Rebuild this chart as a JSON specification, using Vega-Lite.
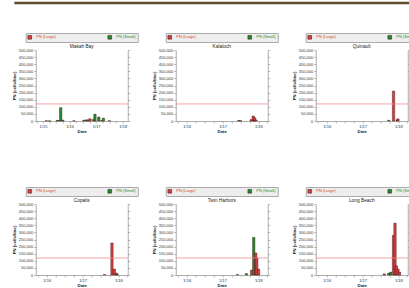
{
  "$schema": "https://vega.github.io/schema/vega-lite/v6.json",
  "padding": {"left": 12, "top": 1, "right": 2, "bottom": 0},
  "center": true,
  "datasets": {
    "pn": [
      {"site": "Makah Bay", "date": "2015-02-15", "type": "PN (Large)", "value": 2000},
      {"site": "Makah Bay", "date": "2015-04-01", "type": "PN (Small)", "value": 1500},
      {"site": "Makah Bay", "date": "2015-07-15", "type": "PN (Small)", "value": 4000},
      {"site": "Makah Bay", "date": "2015-08-10", "type": "PN (Large)", "value": 3000},
      {"site": "Makah Bay", "date": "2015-09-01", "type": "PN (Small)", "value": 94000},
      {"site": "Makah Bay", "date": "2015-10-01", "type": "PN (Small)", "value": 6000},
      {"site": "Makah Bay", "date": "2016-03-01", "type": "PN (Small)", "value": 1500},
      {"site": "Makah Bay", "date": "2016-07-15", "type": "PN (Small)", "value": 5000},
      {"site": "Makah Bay", "date": "2016-08-18", "type": "PN (Large)", "value": 8000},
      {"site": "Makah Bay", "date": "2016-09-10", "type": "PN (Small)", "value": 8000},
      {"site": "Makah Bay", "date": "2016-10-07", "type": "PN (Large)", "value": 16000},
      {"site": "Makah Bay", "date": "2016-11-27", "type": "PN (Large)", "value": 12000},
      {"site": "Makah Bay", "date": "2016-12-15", "type": "PN (Small)", "value": 48000},
      {"site": "Makah Bay", "date": "2017-02-05", "type": "PN (Small)", "value": 28000},
      {"site": "Makah Bay", "date": "2017-03-20", "type": "PN (Large)", "value": 4000},
      {"site": "Makah Bay", "date": "2017-04-10", "type": "PN (Small)", "value": 20000},
      {"site": "Makah Bay", "date": "2017-07-01", "type": "PN (Small)", "value": 2000},
      {"site": "Kalaloch", "date": "2017-06-15", "type": "PN (Small)", "value": 4000},
      {"site": "Kalaloch", "date": "2017-07-05", "type": "PN (Small)", "value": 2500},
      {"site": "Kalaloch", "date": "2017-10-20", "type": "PN (Large)", "value": 10000},
      {"site": "Kalaloch", "date": "2017-11-10", "type": "PN (Large)", "value": 35000},
      {"site": "Kalaloch", "date": "2017-11-18", "type": "PN (Small)", "value": 5000},
      {"site": "Kalaloch", "date": "2017-11-25", "type": "PN (Large)", "value": 22000},
      {"site": "Kalaloch", "date": "2017-12-08", "type": "PN (Large)", "value": 6000},
      {"site": "Quinault", "date": "2017-09-26", "type": "PN (Small)", "value": 5000},
      {"site": "Quinault", "date": "2017-11-13", "type": "PN (Large)", "value": 211000},
      {"site": "Quinault", "date": "2017-12-20", "type": "PN (Small)", "value": 8000},
      {"site": "Quinault", "date": "2017-12-28", "type": "PN (Large)", "value": 15000},
      {"site": "Copalis", "date": "2017-08-13", "type": "PN (Small)", "value": 3000},
      {"site": "Copalis", "date": "2017-10-28", "type": "PN (Large)", "value": 225000},
      {"site": "Copalis", "date": "2017-11-21", "type": "PN (Large)", "value": 42000},
      {"site": "Copalis", "date": "2017-12-10", "type": "PN (Large)", "value": 14000},
      {"site": "Copalis", "date": "2017-12-20", "type": "PN (Small)", "value": 5000},
      {"site": "Twin Harbors", "date": "2017-06-01", "type": "PN (Small)", "value": 3000},
      {"site": "Twin Harbors", "date": "2017-09-01", "type": "PN (Small)", "value": 10000},
      {"site": "Twin Harbors", "date": "2017-10-24", "type": "PN (Large)", "value": 35000},
      {"site": "Twin Harbors", "date": "2017-11-15", "type": "PN (Small)", "value": 265000},
      {"site": "Twin Harbors", "date": "2017-12-05", "type": "PN (Large)", "value": 155000},
      {"site": "Twin Harbors", "date": "2017-12-16", "type": "PN (Large)", "value": 120000},
      {"site": "Twin Harbors", "date": "2018-01-03", "type": "PN (Large)", "value": 42000},
      {"site": "Long Beach", "date": "2017-08-10", "type": "PN (Large)", "value": 8000},
      {"site": "Long Beach", "date": "2017-09-25", "type": "PN (Small)", "value": 12000},
      {"site": "Long Beach", "date": "2017-10-15", "type": "PN (Small)", "value": 20000},
      {"site": "Long Beach", "date": "2017-11-13", "type": "PN (Large)", "value": 280000},
      {"site": "Long Beach", "date": "2017-11-28", "type": "PN (Large)", "value": 365000},
      {"site": "Long Beach", "date": "2017-12-12", "type": "PN (Large)", "value": 65000},
      {"site": "Long Beach", "date": "2017-12-28", "type": "PN (Large)", "value": 42000},
      {"site": "Long Beach", "date": "2018-01-13", "type": "PN (Large)", "value": 21000}
    ],
    "thr": [{"threshold": 120000}],
    "topline": [{"y": 0}]
  },
  "config": {
    "font": "Liberation Sans",
    "view": {"stroke": null},
    "axis": {
      "labelFontSize": 4, "titleFontSize": 4.3, "tickSize": 2, "labelPadding": 1, "titlePadding": 1.5,
      "domainColor": "#777777", "tickColor": "#777777", "labelColor": "#333333", "titleColor": "#222222",
      "grid": false, "domainWidth": 0.6, "tickWidth": 0.5
    },
    "title": {"fontSize": 4.8, "fontWeight": "normal", "offset": 0, "dy": 20, "color": "#222222"},
    "legend": {
      "labelColor": {"expr": "datum.value == 'PN (Large)' ? '#e03a2e' : '#1e8c2e'"}
    }
  },
  "spacing": 27,
  "vconcat": [
    {
      "width": 424, "height": 1,
      "data": {"name": "topline"},
      "mark": {"type": "rule", "color": "#5e4a2a", "strokeWidth": 2.5},
      "encoding": {"y": {"field": "y", "type": "quantitative", "axis": null, "scale": {"domain": [0, 1]}}}
    },
    {
      "spacing": 52,
      "resolve": {"legend": {"color": "independent"}, "scale": {"color": "independent"}},
      "vconcat": [
        {
          "spacing": 14,
          "resolve": {"legend": {"color": "independent"}, "scale": {"color": "independent", "x": "independent"}},
          "hconcat": [
            {
              "width": 92, "height": 71, "title": "Makah Bay",
              "resolve": {"axis": {"y": "independent"}},
              "layer": [
                {
                  "data": {"name": "pn"},
                  "transform": [{"filter": "datum.site == 'Makah Bay'"}],
                  "mark": {"type": "bar", "size": 2.4, "stroke": "#3a1010", "strokeWidth": 0.4},
                  "encoding": {
                    "x": {"field": "date", "type": "temporal", "title": "Date",
                      "scale": {"domain": [{"year": 2014, "month": 12, "date": 1}, {"year": 2018, "month": 1, "date": 1}]},
                      "axis": {"tickCount": {"interval": "month", "step": 3}, "labelOverlap": false, "labelExpr": "month(datum.value) == 0 ? timeFormat(datum.value, '%-m/%y') : ''"}},
                    "y": {"field": "value", "type": "quantitative", "title": "PN (cells/liter)",
                      "scale": {"domain": [0, 500000]},
                      "axis": {"values": [0, 50000, 100000, 150000, 200000, 250000, 300000, 350000, 400000, 450000, 500000], "format": ",d"}},
                    "color": {"field": "type", "type": "nominal",
                      "scale": {"domain": ["PN (Large)", "PN (Small)"], "range": ["#d04040", "#228b2e"]},
                      "legend": {"title": null, "orient": "none", "legendX": -10, "legendY": -17, "direction": "horizontal",
                        "fillColor": "#eeeeee", "strokeColor": "#aaaaaa", "padding": 1.5, "columnPadding": 50,
                        "labelFontSize": 4, "symbolSize": 14, "symbolType": "square", "symbolStrokeWidth": 0.5, "labelLimit": 100}}
                  }
                },
                {
                  "data": {"name": "thr"},
                  "mark": {"type": "rule", "color": "#f08a8a", "strokeWidth": 0.8},
                  "encoding": {"y": {"field": "threshold", "type": "quantitative", "scale": {"domain": [0, 500000]},
                    "axis": {"orient": "right", "labels": false, "title": null, "values": [0, 50000, 100000, 150000, 200000, 250000, 300000, 350000, 400000, 450000, 500000]}}}
                }
              ]
            },
            {
              "width": 92, "height": 71, "title": "Kalaloch",
              "resolve": {"axis": {"y": "independent"}},
              "layer": [
                {
                  "data": {"name": "pn"},
                  "transform": [{"filter": "datum.site == 'Kalaloch'"}],
                  "mark": {"type": "bar", "size": 2.4, "stroke": "#3a1010", "strokeWidth": 0.4},
                  "encoding": {
                    "x": {"field": "date", "type": "temporal", "title": "Date",
                      "scale": {"domain": [{"year": 2015, "month": 11, "date": 1}, {"year": 2018, "month": 2, "date": 15}]},
                      "axis": {"tickCount": {"interval": "month", "step": 3}, "labelOverlap": false, "labelExpr": "month(datum.value) == 0 ? timeFormat(datum.value, '%-m/%y') : ''"}},
                    "y": {"field": "value", "type": "quantitative", "title": "PN (cells/liter)",
                      "scale": {"domain": [0, 500000]},
                      "axis": {"values": [0, 50000, 100000, 150000, 200000, 250000, 300000, 350000, 400000, 450000, 500000], "format": ",d"}},
                    "color": {"field": "type", "type": "nominal",
                      "scale": {"domain": ["PN (Large)", "PN (Small)"], "range": ["#d04040", "#228b2e"]},
                      "legend": {"title": null, "orient": "none", "legendX": -10, "legendY": -17, "direction": "horizontal",
                        "fillColor": "#eeeeee", "strokeColor": "#aaaaaa", "padding": 1.5, "columnPadding": 50,
                        "labelFontSize": 4, "symbolSize": 14, "symbolType": "square", "symbolStrokeWidth": 0.5, "labelLimit": 100}}
                  }
                },
                {
                  "data": {"name": "thr"},
                  "mark": {"type": "rule", "color": "#f08a8a", "strokeWidth": 0.8},
                  "encoding": {"y": {"field": "threshold", "type": "quantitative", "scale": {"domain": [0, 500000]},
                    "axis": {"orient": "right", "labels": false, "title": null, "values": [0, 50000, 100000, 150000, 200000, 250000, 300000, 350000, 400000, 450000, 500000]}}}
                }
              ]
            },
            {
              "width": 92, "height": 71, "title": "Quinault",
              "resolve": {"axis": {"y": "independent"}},
              "layer": [
                {
                  "data": {"name": "pn"},
                  "transform": [{"filter": "datum.site == 'Quinault'"}],
                  "mark": {"type": "bar", "size": 2.4, "stroke": "#3a1010", "strokeWidth": 0.4},
                  "encoding": {
                    "x": {"field": "date", "type": "temporal", "title": "Date",
                      "scale": {"domain": [{"year": 2015, "month": 11, "date": 1}, {"year": 2018, "month": 2, "date": 15}]},
                      "axis": {"tickCount": {"interval": "month", "step": 3}, "labelOverlap": false, "labelExpr": "month(datum.value) == 0 ? timeFormat(datum.value, '%-m/%y') : ''"}},
                    "y": {"field": "value", "type": "quantitative", "title": "PN (cells/liter)",
                      "scale": {"domain": [0, 500000]},
                      "axis": {"values": [0, 50000, 100000, 150000, 200000, 250000, 300000, 350000, 400000, 450000, 500000], "format": ",d"}},
                    "color": {"field": "type", "type": "nominal",
                      "scale": {"domain": ["PN (Large)", "PN (Small)"], "range": ["#d04040", "#228b2e"]},
                      "legend": {"title": null, "orient": "none", "legendX": -10, "legendY": -17, "direction": "horizontal",
                        "fillColor": "#eeeeee", "strokeColor": "#aaaaaa", "padding": 1.5, "columnPadding": 50,
                        "labelFontSize": 4, "symbolSize": 14, "symbolType": "square", "symbolStrokeWidth": 0.5, "labelLimit": 100}}
                  }
                },
                {
                  "data": {"name": "thr"},
                  "mark": {"type": "rule", "color": "#f08a8a", "strokeWidth": 0.8},
                  "encoding": {"y": {"field": "threshold", "type": "quantitative", "scale": {"domain": [0, 500000]},
                    "axis": {"orient": "right", "labels": false, "title": null, "values": [0, 50000, 100000, 150000, 200000, 250000, 300000, 350000, 400000, 450000, 500000]}}}
                }
              ]
            }
          ]
        },
        {
          "spacing": 14,
          "resolve": {"legend": {"color": "independent"}, "scale": {"color": "independent", "x": "independent"}},
          "hconcat": [
            {
              "width": 92, "height": 71, "title": "Copalis",
              "resolve": {"axis": {"y": "independent"}},
              "layer": [
                {
                  "data": {"name": "pn"},
                  "transform": [{"filter": "datum.site == 'Copalis'"}],
                  "mark": {"type": "bar", "size": 2.4, "stroke": "#3a1010", "strokeWidth": 0.4},
                  "encoding": {
                    "x": {"field": "date", "type": "temporal", "title": "Date",
                      "scale": {"domain": [{"year": 2015, "month": 11, "date": 1}, {"year": 2018, "month": 2, "date": 15}]},
                      "axis": {"tickCount": {"interval": "month", "step": 3}, "labelOverlap": false, "labelExpr": "month(datum.value) == 0 ? timeFormat(datum.value, '%-m/%y') : ''"}},
                    "y": {"field": "value", "type": "quantitative", "title": "PN (cells/liter)",
                      "scale": {"domain": [0, 500000]},
                      "axis": {"values": [0, 50000, 100000, 150000, 200000, 250000, 300000, 350000, 400000, 450000, 500000], "format": ",d"}},
                    "color": {"field": "type", "type": "nominal",
                      "scale": {"domain": ["PN (Large)", "PN (Small)"], "range": ["#d04040", "#228b2e"]},
                      "legend": {"title": null, "orient": "none", "legendX": -10, "legendY": -17, "direction": "horizontal",
                        "fillColor": "#eeeeee", "strokeColor": "#aaaaaa", "padding": 1.5, "columnPadding": 50,
                        "labelFontSize": 4, "symbolSize": 14, "symbolType": "square", "symbolStrokeWidth": 0.5, "labelLimit": 100}}
                  }
                },
                {
                  "data": {"name": "thr"},
                  "mark": {"type": "rule", "color": "#f08a8a", "strokeWidth": 0.8},
                  "encoding": {"y": {"field": "threshold", "type": "quantitative", "scale": {"domain": [0, 500000]},
                    "axis": {"orient": "right", "labels": false, "title": null, "values": [0, 50000, 100000, 150000, 200000, 250000, 300000, 350000, 400000, 450000, 500000]}}}
                }
              ]
            },
            {
              "width": 92, "height": 71, "title": "Twin Harbors",
              "resolve": {"axis": {"y": "independent"}},
              "layer": [
                {
                  "data": {"name": "pn"},
                  "transform": [{"filter": "datum.site == 'Twin Harbors'"}],
                  "mark": {"type": "bar", "size": 2.4, "stroke": "#3a1010", "strokeWidth": 0.4},
                  "encoding": {
                    "x": {"field": "date", "type": "temporal", "title": "Date",
                      "scale": {"domain": [{"year": 2015, "month": 11, "date": 1}, {"year": 2018, "month": 2, "date": 15}]},
                      "axis": {"tickCount": {"interval": "month", "step": 3}, "labelOverlap": false, "labelExpr": "month(datum.value) == 0 ? timeFormat(datum.value, '%-m/%y') : ''"}},
                    "y": {"field": "value", "type": "quantitative", "title": "PN (cells/liter)",
                      "scale": {"domain": [0, 500000]},
                      "axis": {"values": [0, 50000, 100000, 150000, 200000, 250000, 300000, 350000, 400000, 450000, 500000], "format": ",d"}},
                    "color": {"field": "type", "type": "nominal",
                      "scale": {"domain": ["PN (Large)", "PN (Small)"], "range": ["#d04040", "#228b2e"]},
                      "legend": {"title": null, "orient": "none", "legendX": -10, "legendY": -17, "direction": "horizontal",
                        "fillColor": "#eeeeee", "strokeColor": "#aaaaaa", "padding": 1.5, "columnPadding": 50,
                        "labelFontSize": 4, "symbolSize": 14, "symbolType": "square", "symbolStrokeWidth": 0.5, "labelLimit": 100}}
                  }
                },
                {
                  "data": {"name": "thr"},
                  "mark": {"type": "rule", "color": "#f08a8a", "strokeWidth": 0.8},
                  "encoding": {"y": {"field": "threshold", "type": "quantitative", "scale": {"domain": [0, 500000]},
                    "axis": {"orient": "right", "labels": false, "title": null, "values": [0, 50000, 100000, 150000, 200000, 250000, 300000, 350000, 400000, 450000, 500000]}}}
                }
              ]
            },
            {
              "width": 92, "height": 71, "title": "Long Beach",
              "resolve": {"axis": {"y": "independent"}},
              "layer": [
                {
                  "data": {"name": "pn"},
                  "transform": [{"filter": "datum.site == 'Long Beach'"}],
                  "mark": {"type": "bar", "size": 2.4, "stroke": "#3a1010", "strokeWidth": 0.4},
                  "encoding": {
                    "x": {"field": "date", "type": "temporal", "title": "Date",
                      "scale": {"domain": [{"year": 2015, "month": 11, "date": 1}, {"year": 2018, "month": 2, "date": 15}]},
                      "axis": {"tickCount": {"interval": "month", "step": 3}, "labelOverlap": false, "labelExpr": "month(datum.value) == 0 ? timeFormat(datum.value, '%-m/%y') : ''"}},
                    "y": {"field": "value", "type": "quantitative", "title": "PN (cells/liter)",
                      "scale": {"domain": [0, 500000]},
                      "axis": {"values": [0, 50000, 100000, 150000, 200000, 250000, 300000, 350000, 400000, 450000, 500000], "format": ",d"}},
                    "color": {"field": "type", "type": "nominal",
                      "scale": {"domain": ["PN (Large)", "PN (Small)"], "range": ["#d04040", "#228b2e"]},
                      "legend": {"title": null, "orient": "none", "legendX": -10, "legendY": -17, "direction": "horizontal",
                        "fillColor": "#eeeeee", "strokeColor": "#aaaaaa", "padding": 1.5, "columnPadding": 50,
                        "labelFontSize": 4, "symbolSize": 14, "symbolType": "square", "symbolStrokeWidth": 0.5, "labelLimit": 100}}
                  }
                },
                {
                  "data": {"name": "thr"},
                  "mark": {"type": "rule", "color": "#f08a8a", "strokeWidth": 0.8},
                  "encoding": {"y": {"field": "threshold", "type": "quantitative", "scale": {"domain": [0, 500000]},
                    "axis": {"orient": "right", "labels": false, "title": null, "values": [0, 50000, 100000, 150000, 200000, 250000, 300000, 350000, 400000, 450000, 500000]}}}
                }
              ]
            }
          ]
        }
      ]
    }
  ]
}
